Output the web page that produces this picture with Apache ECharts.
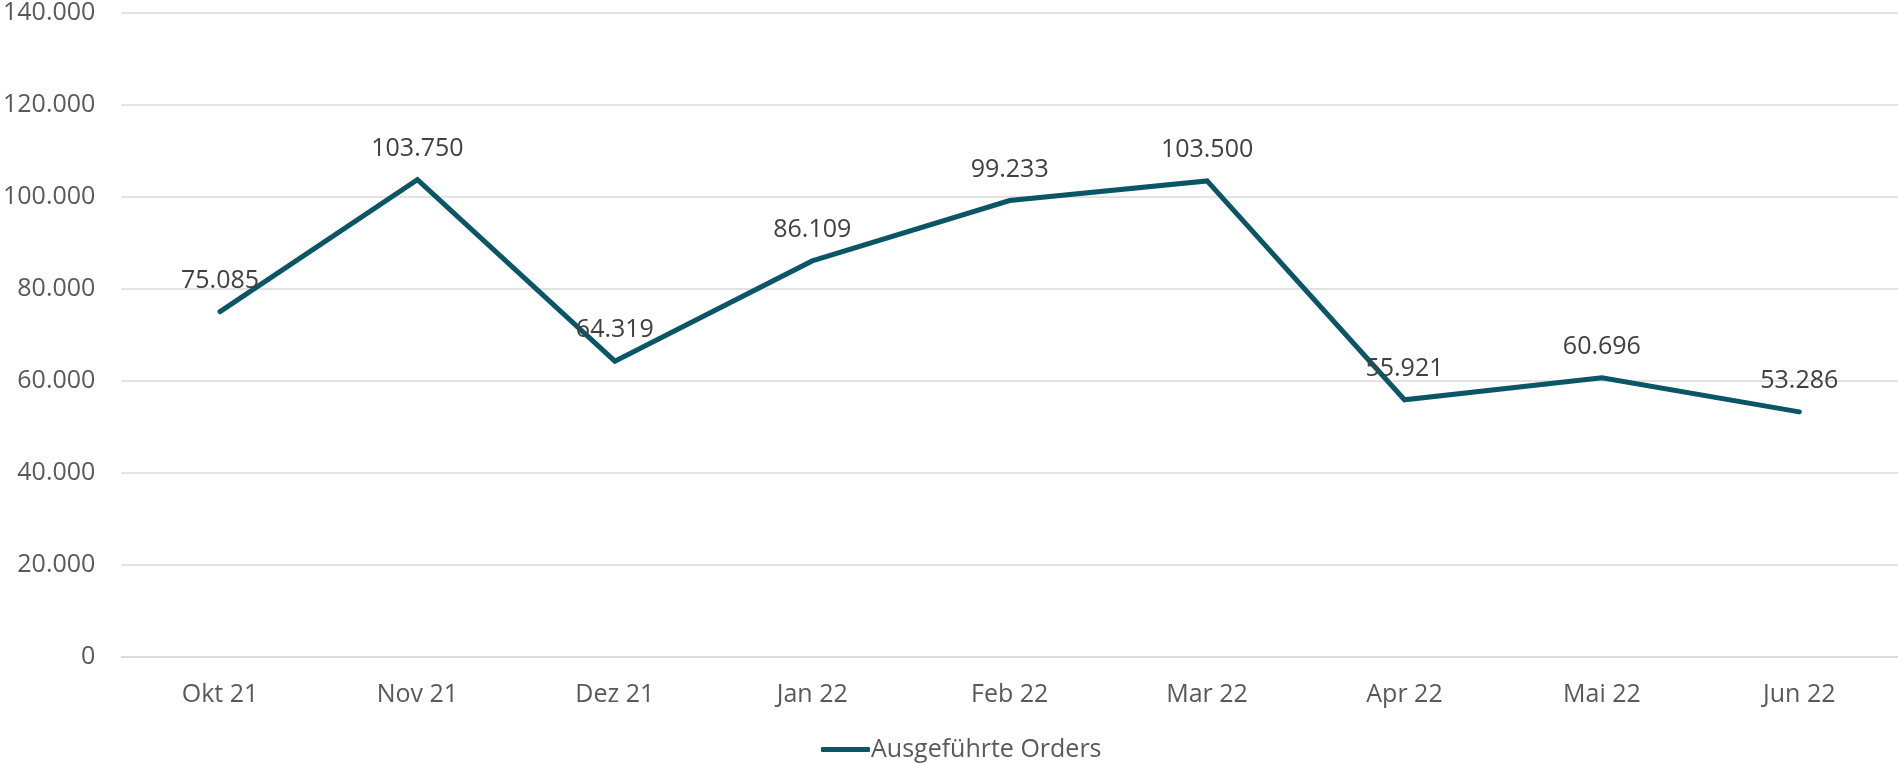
<!DOCTYPE html>
<html>
<head>
<meta charset="utf-8">
<script src="https://cdn.jsdelivr.net/npm/echarts@6/dist/echarts.min.js"></script>
<style>
html,body{margin:0;padding:0;background:#fff;}
#chart{width:1898px;height:763px;}
</style>
</head>
<body>
<div id="chart"></div>
<script>
const categories = ['Okt 21','Nov 21','Dez 21','Jan 22','Feb 22','Mar 22','Apr 22','Mai 22','Jun 22'];
const orders = [75085, 103750, 64319, 86109, 99233, 103500, 55921, 60696, 53286];
const seriesName = 'Ausgeführte Orders';

function fmt(v){
  return String(Math.round(v)).replace(/\B(?=(\d{3})+(?!\d))/g, '.');
}

const chart = echarts.init(document.getElementById('chart'), null, {renderer:'canvas'});
const FONT = '"Open Sans", "Liberation Sans", sans-serif';
const LINE = '#0a5566';
chart.setOption({
  animation:false,
  backgroundColor:'#ffffff',
  grid:{left:120, right:0, top:13, bottom:106, containLabel:false},
  legend:{
    data:[{name:seriesName, icon:'roundRect', itemStyle:{color:LINE}}],
    bottom:-4,
    left:816,
    itemWidth:49,
    itemHeight:5,
    textStyle:{fontFamily:FONT, fontSize:25, color:'#595959', padding:[0,0,0,-4]}
  },
  xAxis:{
    type:'category',
    data:categories,
    boundaryGap:true,
    axisLine:{show:true, lineStyle:{color:'#d9d9d9', width:1.5}},
    axisTick:{show:false},
    axisLabel:{fontFamily:FONT, fontSize:25, color:'#595959', margin:25}
  },
  yAxis:{
    type:'value',
    min:0, max:140000, interval:20000,
    axisLine:{show:false},
    axisTick:{show:false},
    splitLine:{lineStyle:{color:'#d9d9d9', width:1.5}},
    axisLabel:{fontFamily:FONT, fontSize:25, color:'#595959', margin:26, formatter:v=>fmt(v)}
  },
  series:[{
    name:seriesName,
    type:'line',
    data:orders,
    symbol:'circle',
    showSymbol:true,
    symbolSize:1,
    lineStyle:{color:LINE, width:5, cap:'round', join:'miter'},
    itemStyle:{color:LINE},
    labelLayout:{hideOverlap:false},
    label:{show:true, position:'top', distance:18, fontFamily:FONT, fontSize:25, color:'#404040', formatter:p=>fmt(p.value)}
  }]
});
</script>
</body>
</html>
